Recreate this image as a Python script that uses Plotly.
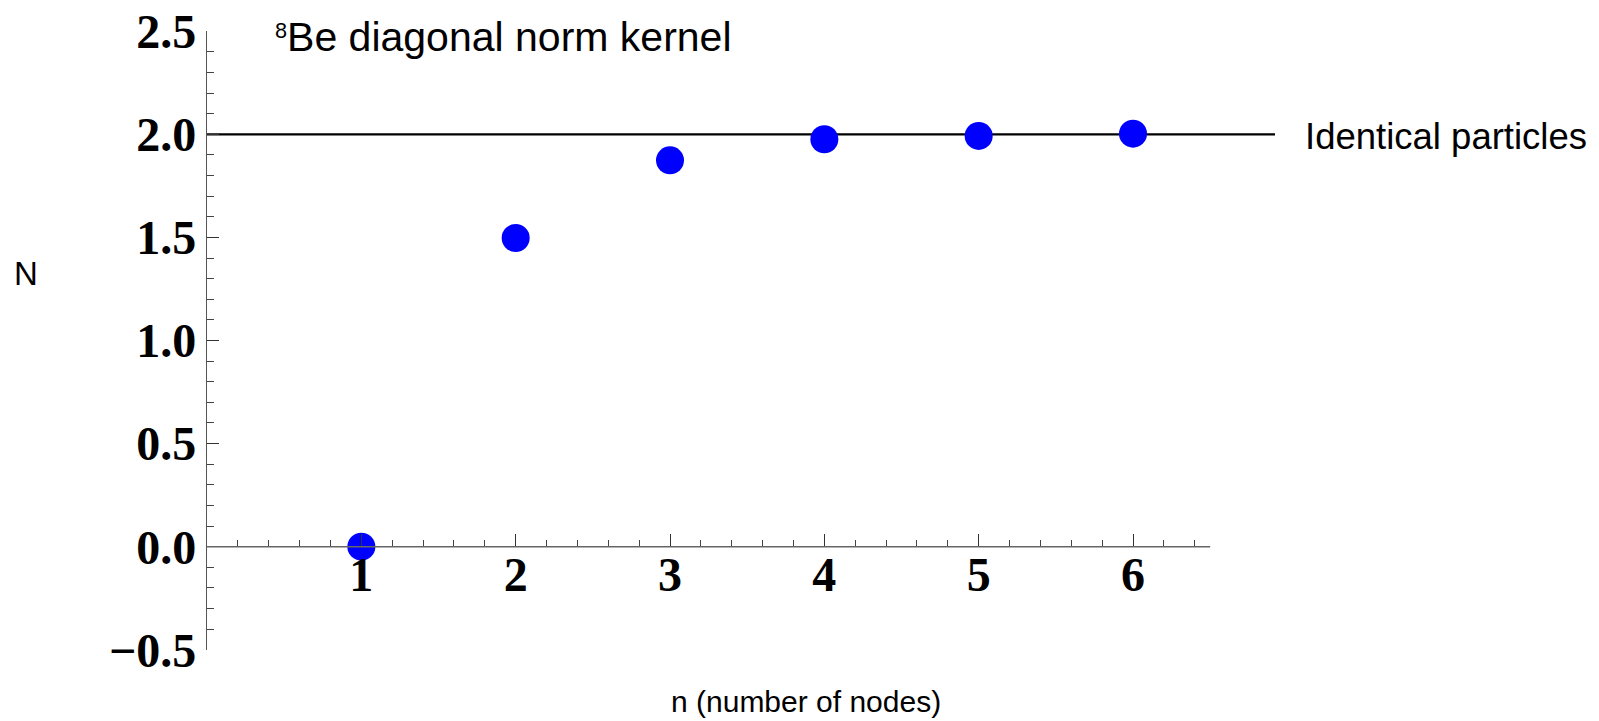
import plotly.graph_objects as go

# ---- data ----
n_nodes = [1, 2, 3, 4, 5, 6]
norm_values = [0.0, 1.497, 1.874, 1.976, 1.992, 2.003]
identical_value = 2.0
x_axis_end = 6.5

x_major_ticks = [1, 2, 3, 4, 5, 6]
x_major_labels = ["1", "2", "3", "4", "5", "6"]
x_minor_ticks = [0.2, 0.4, 0.6, 0.8, 1.2, 1.4, 1.6, 1.8, 2.2, 2.4, 2.6, 2.8,
                 3.2, 3.4, 3.6, 3.8, 4.2, 4.4, 4.6, 4.8, 5.2, 5.4, 5.6, 5.8,
                 6.2, 6.4]
y_major_ticks = [-0.5, 0.0, 0.5, 1.0, 1.5, 2.0, 2.5]
y_major_labels = ["\u22120.5", "0.0", "0.5", "1.0", "1.5", "2.0", "2.5"]

# ---- layout geometry (pixels) ----
W, H = 1599, 721
L, R, T, B = 207, 324, 31, 71
pw, ph = W - L - R, H - T - B

def px_x(p):
    return (p - L) / pw

def px_y(p):
    return (H - B - p) / ph

y_range = [-0.5, 2.5]
x_range = [0, 6.92]

fig = go.Figure()
fig.add_trace(go.Scatter(
    x=n_nodes, y=norm_values, mode="markers",
    marker=dict(color="#0000FF", size=28, line=dict(width=0)),
    showlegend=False, hoverinfo="x+y",
))

tick_font = dict(family="Liberation Serif", size=48, color="black", weight="bold")

fig.update_layout(
    width=W, height=H,
    margin=dict(l=L, r=R, t=T, b=B, pad=0, autoexpand=False),
    plot_bgcolor="white", paper_bgcolor="white",
    showlegend=False,
    xaxis=dict(
        range=x_range, anchor="free", position=(0 - y_range[0]) / (y_range[1] - y_range[0]),
        automargin=False,
        showline=False, showgrid=False, zeroline=False,
        tickmode="array", tickvals=x_major_ticks, ticktext=x_major_labels,
        ticks="inside", ticklen=13, tickwidth=1.3, tickcolor="#333",
        tickfont=tick_font, ticklabelstandoff=-5,
        minor=dict(tickmode="array", tickvals=x_minor_ticks, ticks="inside",
                   ticklen=7, tickwidth=1.2, tickcolor="#444", showgrid=False),
    ),
    yaxis=dict(
        range=[y_range[0] - 0.001, y_range[1] + 0.001],
        automargin=False,
        showline=True, linecolor="#555", linewidth=1.3,
        showgrid=False, zeroline=False,
        tickmode="array", tickvals=y_major_ticks, ticktext=y_major_labels,
        ticks="inside", ticklen=12, tickwidth=1.3, tickcolor="#333",
        tickfont=tick_font, ticklabelstandoff=0,
        minor=dict(tickmode="linear", tick0=-0.5, dtick=0.1, ticks="inside",
                   ticklen=7, tickwidth=1.2, tickcolor="#444", showgrid=False),
    ),
    shapes=[
        dict(type="line", xref="x domain", x0=0, x1=1, yref="y",
             y0=identical_value, y1=identical_value,
             line=dict(color="black", width=2.2), layer="below"),
        dict(type="line", xref="x", x0=0, x1=x_axis_end, yref="y", y0=0, y1=0,
             line=dict(color="#666", width=1.4), layer="above"),
    ],
)

sans = "Liberation Sans"
fig.add_annotation(text="<span style='font-size:31px'><sup>8</sup></span>Be diagonal norm kernel",
                   xref="paper", yref="paper",
                   x=px_x(273), y=px_y(37), xanchor="left", yanchor="middle",
                   showarrow=False, font=dict(family=sans, size=41, color="black"))
fig.add_annotation(text="Identical particles", xref="paper", yref="paper",
                   x=px_x(1303), y=px_y(136), xanchor="left", yanchor="middle",
                   showarrow=False, font=dict(family=sans, size=36.5, color="black"))
fig.add_annotation(text="N", xref="paper", yref="paper",
                   x=px_x(26), y=px_y(273), xanchor="center", yanchor="middle",
                   showarrow=False, font=dict(family=sans, size=33, color="black"))
fig.add_annotation(text="n (number of nodes)", xref="paper", yref="paper",
                   x=px_x(806), y=px_y(701), xanchor="center", yanchor="middle",
                   showarrow=False, font=dict(family=sans, size=30, color="black"))

fig.write_html("out.html")
